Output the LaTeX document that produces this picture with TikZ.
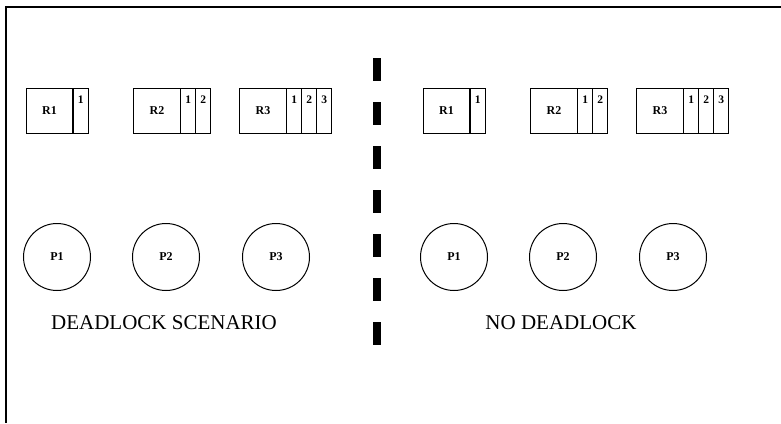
\documentclass[tikz,border=0pt]{standalone}
\usepackage{fontspec}
\setmainfont{Liberation Serif}
\usetikzlibrary{positioning}
\begin{document}
\begin{tikzpicture}[x=1pt,y=-1pt,
  resbox/.style={draw,line width=1pt,minimum width=46.5pt,minimum height=45pt,inner sep=0pt,font=\fontsize{12}{12}\selectfont\bfseries},
  slot/.style={draw,line width=1pt,minimum width=15pt,inner xsep=0pt,inner ysep=4pt,text height=11pt,text depth=26pt,font=\fontsize{11.5}{11.5}\selectfont\bfseries},
  proc/.style={draw,circle,line width=1pt,minimum size=67pt,inner sep=0pt,font=\fontsize{12}{12}\selectfont\bfseries}]
  \useasboundingbox (0,0) rectangle (781,423);
  \draw[line width=1.5pt] (781,7) -- (6,7) -- (6,423);
  \draw[line width=8pt,dash pattern=on 23pt off 21pt] (377,58) -- (377,347);
  \foreach \s/\dx/\cap in {a/0/DEADLOCK SCENARIO,b/397/NO DEADLOCK}{
  \begin{scope}[xshift=\dx pt]
  % resources with their instances
  \foreach \n/\x in {1/49.5,2/157,3/263}{
    \node[resbox] (R\n\s) at (\x,110.5) {R\n};
    \foreach \k in {1,...,\n}{\node[slot] (S\n\k\s) at ([xshift=(\k-0.5)*15pt]R\n\s.east) {\k};}
  }
  % processes
  \foreach \n/\x in {1/57,2/166,3/276}{\node[proc] (P\n\s) at (\x,257) {P\n};}
  \node[font=\fontsize{21}{21}\selectfont] (cap\s) at (164,323) {\cap};
  \end{scope}}
\end{tikzpicture}
\end{document}
